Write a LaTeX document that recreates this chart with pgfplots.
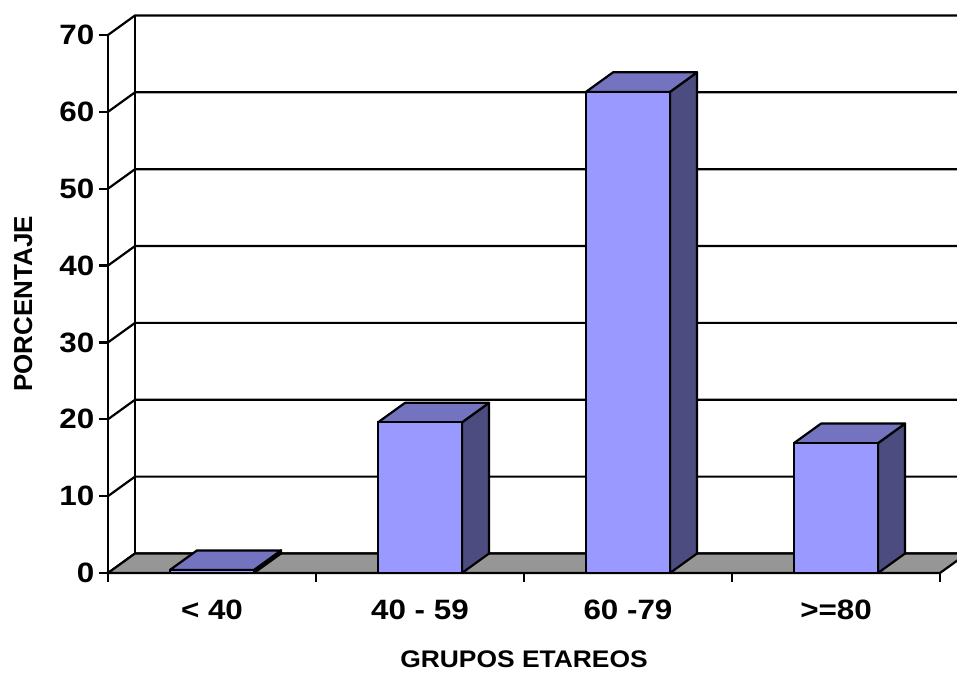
\documentclass[border=0pt]{standalone}
\usepackage{pgfplots}
\pgfplotsset{compat=1.18}
\usepackage{pgfplotstable}
\usepackage{fontspec}
\setmainfont{Liberation Sans}

\definecolor{barfront}{RGB}{153,153,255}
\definecolor{bartop}{RGB}{115,115,192}
\definecolor{barside}{RGB}{76,76,128}
\definecolor{floorgray}{RGB}{150,150,150}

% percentage of patients per age group (x = category centre)
\pgfplotstableread{
x v
0.5 0.4
1.5 19.6
2.5 62.6
3.5 16.9
}\grupos

% corners of a column face: x = c + a*w + b*dx, y = t*v + b*dy
\pgfplotstableread{
a b t
-1 0 1
1 0 1
1 1 1
-1 1 1
-1 0 1
}\topface
\pgfplotstableread{
a b t
1 0 0
1 1 0
1 1 1
1 0 1
1 0 0
}\sideface
% gridline: across the left wall, then along the back wall
\pgfplotstableread{
x b
0 0
0.13 1
4.6 1
}\gridpath

\def\bw{0.202}  % half column width
\def\dx{0.13}   % depth offset, x
\def\dy{2.54}   % depth offset, y
\def\lw{1.1pt}

\begin{document}
\begin{tikzpicture}
\useasboundingbox (-54pt,-50pt) rectangle (424.5pt,286.5pt);
\clip (-54pt,-50pt) rectangle (424.5pt,286.5pt);
\begin{axis}[
  at={(0,0)}, anchor=south west,
  x=104pt, y=3.843pt,
  xmin=0, xmax=4, ymin=0, ymax=70,
  clip=false, axis on top,
  axis x line*=bottom, axis y line*=left,
  axis line style={line width=1.2pt, -},
  tick align=outside,
  major tick length=4.5pt,
  tick style={black, line width=1.1pt},
  ytick={0,10,...,70},
  xtick={0,1,2,3,4},
  xticklabels={{< 40},{40 - 59},{60 -79},{>=80},{}},
  ticklabel style={font=\fontsize{14}{16}\selectfont\bfseries, xscale=1.12},
  /pgf/number format/assume math mode=true,
  yticklabel style={anchor=east, inner sep=0pt, xshift=-1.9pt},
  xticklabel style={anchor=north, inner sep=0pt, xshift=46.43pt, yshift=-9pt},
  xlabel={GRUPOS ETAREOS}, ylabel={PORCENTAJE},
  every axis x label/.style={at={(axis description cs:0.5,-0.1765)}, anchor=base,
    font=\fontsize{12}{14}\selectfont\bfseries, xscale=1.1},
  every axis y label/.style={at={(axis description cs:-0.0913,0.5)}, anchor=base,
    rotate=90, font=\fontsize{13}{15}\selectfont\bfseries},
]
% back wall and left wall gridlines
\pgfplotsinvokeforeach{0,10,...,70}{
  \addplot[black, line width=\lw, line join=round]
    table[x=x, y expr={#1+\thisrow{b}*\dy}] {\gridpath};
}
\addplot[black, line width=1.4pt] coordinates {(0.13,2.54) (0.13,72.54)};
% floor
\addplot[fill=floorgray, draw=black, line width=\lw, line join=round]
  coordinates {(0,0) (4,0) (4.13,2.54) (0.13,2.54) (0,0)};
% columns: side and top faces
\pgfplotsinvokeforeach{0,1,2,3}{
  \pgfplotstablegetelem{#1}{x}\of\grupos \let\cx\pgfplotsretval
  \pgfplotstablegetelem{#1}{v}\of\grupos \let\cv\pgfplotsretval
  \addplot[fill=barside, draw=black, line width=\lw, line join=round]
    table[x expr={\cx+\thisrow{a}*\bw+\thisrow{b}*\dx},
          y expr={\thisrow{t}*\cv+\thisrow{b}*\dy}] {\sideface};
  \addplot[fill=bartop, draw=black, line width=\lw, line join=round]
    table[x expr={\cx+\thisrow{a}*\bw+\thisrow{b}*\dx},
          y expr={\thisrow{t}*\cv+\thisrow{b}*\dy}] {\topface};
}
% columns: front faces
\addplot[ybar, bar width=0.404, fill=barfront, draw=black, line width=\lw]
  table[x=x, y=v] {\grupos};
\end{axis}
\end{tikzpicture}
\end{document}
